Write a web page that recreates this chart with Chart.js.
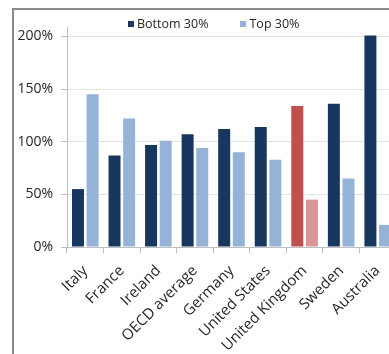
<!DOCTYPE html>
<html>
<head>
<meta charset="utf-8">
<script src="https://cdn.jsdelivr.net/npm/chart.js@4"></script>
<style>
  html, body { margin: 0; padding: 0; background: #fff; overflow: hidden; }
  body { width: 389px; height: 354px; position: relative; }
  #marco { position: absolute; left: 12px; top: 8px; width: 398px; height: 360px;
           border: 2px solid #8a8a8a; }
  #grafica_box { position: absolute; left: 0; top: 0; width: 398px; height: 344px; }
  #leyenda { position: absolute; top: 5px; left: 114px; font: 12.5px "Open Sans", sans-serif;
             color: #262626; white-space: nowrap; }
  #leyenda span.caja { display: inline-block; width: 6px; height: 6px; margin-right: 3px;
                        vertical-align: 1px; }
  #leyenda span.item { margin-right: 32px; }
</style>
</head>
<body>
<div id="marco">
  <div id="grafica_box"><canvas id="grafica"></canvas></div>
  <div id="leyenda"></div>
</div>
<script>
// datos
const paises = ['Italy', 'France', 'Ireland', 'OECD average', 'Germany', 'United States', 'United Kingdom', 'Sweden', 'Australia'];
const bottom30 = [55, 87, 97, 107, 112, 114, 134, 136, 201];
const top30 = [145, 122, 101, 94, 90, 83, 45, 65, 21];
const ticks_y = [0, 50, 100, 150, 200];
const series = ['Bottom 30%', 'Top 30%'];

const azul_osc = '#17375E';
const azul_cla = '#95B3D7';
const rojo = '#C0504D';
const rosa = '#DA9694';
const resaltado = 'United Kingdom';

const colores_b = paises.map(p => p === resaltado ? rojo : azul_osc);
const colores_t = paises.map(p => p === resaltado ? rosa : azul_cla);

// leyenda en html
document.getElementById('leyenda').innerHTML =
  '<span class="item"><span class="caja" style="background:' + azul_osc + '"></span>' + series[0] + '</span>' +
  '<span><span class="caja" style="background:' + azul_cla + '"></span>' + series[1] + '</span>';

const fuente = { family: '"Open Sans", sans-serif', size: 14 };

new Chart(document.getElementById('grafica'), {
  type: 'bar',
  data: {
    labels: paises,
    datasets: [
      { label: series[0], data: bottom30, backgroundColor: colores_b,
        barPercentage: 0.82, categoryPercentage: 0.8 },
      { label: series[1], data: top30, backgroundColor: colores_t,
        barPercentage: 0.82, categoryPercentage: 0.8 }
    ]
  },
  options: {
    responsive: true,
    maintainAspectRatio: false,
    animation: false,
    layout: { padding: { top: 17, right: 16, left: 0, bottom: 0 } },
    plugins: { legend: { display: false }, tooltip: { enabled: false } },
    scales: {
      x: {
        offset: true,
        grid: { display: true, drawOnChartArea: false, offset: true, tickLength: 6, color: '#bfbfbf' },
        border: { color: '#bfbfbf' },
        ticks: { minRotation: 45, maxRotation: 45, padding: 9, color: '#262626',
                 font: { family: '"Open Sans", sans-serif', size: 15 } },
        afterFit: s => { s.height = 107; }
      },
      y: {
        min: 0,
        max: 209,
        grid: { color: '#e3e3e3', tickLength: 6, tickColor: '#bfbfbf' },
        border: { color: '#bfbfbf' },
        afterBuildTicks: s => { s.ticks = ticks_y.map(v => ({ value: v })); },
        ticks: { padding: 8, color: '#262626', font: fuente, callback: v => v + '%' },
        afterFit: s => { s.width = 53; }
      }
    }
  }
});
</script>
</body>
</html>
